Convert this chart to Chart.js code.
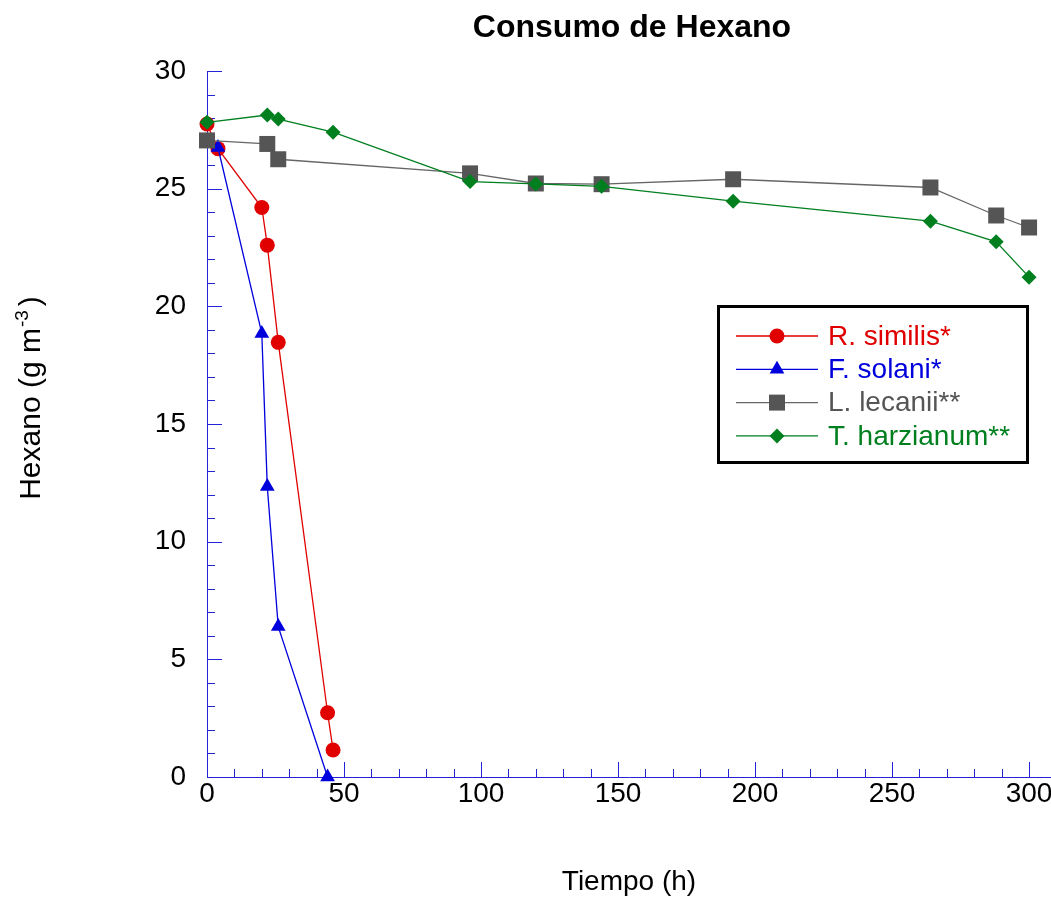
<!DOCTYPE html>
<html>
<head>
<meta charset="utf-8">
<title>Consumo de Hexano</title>
<script src="https://cdn.jsdelivr.net/npm/chart.js@4/dist/chart.umd.min.js"></script>
<style>
  html, body { margin: 0; padding: 0; background: #fff; }
  #wrap { width: 1051px; height: 899px; }
</style>
</head>
<body>
<div id="wrap"><canvas id="chart" width="1051" height="899"></canvas></div>
<script>
// tiempos (h) y hexano (g m-3) de cada cepa
const tiempoSimilis = [0, 4, 20, 22, 26, 44, 46];
const similis = [27.75, 26.7, 24.2, 22.6, 18.47, 2.73, 1.15];

const tiempoSolani = [0, 4, 20, 22, 26, 44];
const solani = [27.0, 26.75, 18.85, 12.34, 6.39, 0];

const tiempoLecanii = [0, 22, 26, 96, 120, 144, 192, 264, 288, 300];
const lecanii = [27.05, 26.9, 26.25, 25.65, 25.22, 25.19, 25.4, 25.05, 23.86, 23.35];

const tiempoHarzianum = [0, 22, 26, 46, 96, 120, 144, 192, 264, 288, 300];
const harzianum = [27.82, 28.13, 27.96, 27.4, 25.3, 25.2, 25.1, 24.47, 23.62, 22.74, 21.24];

const nombres = ["R. similis*", "F. solani*", "L. lecanii**", "T. harzianum**"];
const ticksX = [0, 50, 100, 150, 200, 250, 300];
const ticksY = [0, 5, 10, 15, 20, 25, 30];

const azul = "#2424d6";
const fuente = "'Liberation Sans', Arial, sans-serif";

function puntos(xs, ys) {
  return xs.map((x, i) => ({ x: x, y: ys[i] }));
}

function serie(label, xs, ys, color, linea, estilo, radio, orden) {
  return {
    label: label,
    data: puntos(xs, ys),
    borderColor: linea,
    backgroundColor: color,
    pointBackgroundColor: color,
    pointBorderColor: color,
    pointBorderWidth: 0,
    borderWidth: 1.3,
    pointStyle: estilo,
    pointRadius: radio,
    pointHoverRadius: radio,
    tension: 0,
    clip: false,
    order: orden
  };
}

const datasets = [
  serie(nombres[0], tiempoSimilis, similis, "#e00000", "#e00000", "circle", 7.5, 4),
  serie(nombres[1], tiempoSolani, solani, "#0000dd", "#0000dd", "triangle", 8.5, 3),
  serie(nombres[2], tiempoLecanii, lecanii, "#555555", "#666666", "rect", 11.3, 2),
  serie(nombres[3], tiempoHarzianum, harzianum, "#007f1f", "#007f1f", "rectRot", 7.5, 1)
];
const colorTexto = ["#e00000", "#0000dd", "#555555", "#007f1f"];

// ejes azules con marcas hacia dentro, titulo, eje y y leyenda
const decoracion = {
  id: "decoracion",
  beforeDatasetsDraw(chart) {
    const ctx = chart.ctx;
    const a = chart.chartArea;
    const sx = chart.scales.x, sy = chart.scales.y;
    ctx.save();
    ctx.strokeStyle = azul;
    ctx.lineWidth = 1;
    ctx.beginPath();
    ctx.moveTo(a.left + 0.5, a.top);
    ctx.lineTo(a.left + 0.5, a.bottom + 0.5);
    ctx.lineTo(a.right, a.bottom + 0.5);
    for (let v = 0; v <= 30; v++) {
      const y = Math.round(sy.getPixelForValue(v)) + 0.5;
      ctx.moveTo(a.left, y);
      ctx.lineTo(a.left + (v % 5 === 0 ? 15 : 8), y);
    }
    for (let v = 0; v <= 300; v += 10) {
      const x = Math.round(sx.getPixelForValue(v)) + 0.5;
      ctx.moveTo(x, a.bottom);
      ctx.lineTo(x, a.bottom - (v % 50 === 0 ? 15 : 8));
    }
    ctx.stroke();
    ctx.restore();
  },
  afterDraw(chart) {
    const ctx = chart.ctx;
    ctx.save();
    // titulo
    ctx.fillStyle = "#000";
    ctx.font = "bold 32px " + fuente;
    ctx.textAlign = "center";
    ctx.textBaseline = "alphabetic";
    ctx.fillText("Consumo de Hexano", 632, 37);

    // titulo del eje y con superindice
    const f1 = "30px " + fuente, f2 = "19px " + fuente;
    ctx.font = f1;
    const p1 = "Hexano (g m", p3 = ")";
    const w1 = ctx.measureText(p1).width, w3 = ctx.measureText(p3).width;
    ctx.font = f2;
    const w2 = ctx.measureText("-3").width;
    const total = w1 + w2 + 5 + w3;
    ctx.translate(40, 398);
    ctx.rotate(-Math.PI / 2);
    ctx.textAlign = "left";
    let x = -total / 2;
    ctx.font = f1;
    ctx.fillText(p1, x, 0);
    x += w1 + 1;
    ctx.font = f2;
    ctx.fillText("-3", x, -12);
    x += w2 + 4;
    ctx.font = f1;
    ctx.fillText(p3, x, 0);
    ctx.restore();

    // leyenda
    ctx.save();
    ctx.fillStyle = "#fff";
    ctx.fillRect(718, 306, 310, 157);
    ctx.strokeStyle = "#000";
    ctx.lineWidth = 3;
    ctx.strokeRect(718.5, 306.5, 309, 156);
    ctx.font = "28px " + fuente;
    ctx.textBaseline = "middle";
    ctx.textAlign = "left";
    chart.data.datasets.forEach((ds, i) => {
      const y = 336 + i * 33.3;
      ctx.strokeStyle = ds.borderColor;
      ctx.lineWidth = 1.3;
      ctx.beginPath();
      ctx.moveTo(736, y);
      ctx.lineTo(818, y);
      ctx.stroke();
      ctx.fillStyle = ds.pointBackgroundColor;
      Chart.helpers.drawPoint(ctx, {
        pointStyle: ds.pointStyle,
        radius: ds.pointRadius,
        rotation: 0,
        borderWidth: 0
      }, 777, y);
      ctx.fillStyle = colorTexto[i];
      ctx.fillText(ds.label, 828, y + 1);
    });
    ctx.restore();
  }
};

new Chart(document.getElementById("chart"), {
  type: "line",
  data: { datasets: datasets },
  plugins: [decoracion],
  options: {
    responsive: false,
    animation: false,
    layout: { autoPadding: false, padding: { top: 71, right: 0, left: 0, bottom: 0 } },
    plugins: {
      legend: { display: false },
      title: { display: false },
      tooltip: { enabled: false }
    },
    scales: {
      x: {
        type: "linear",
        min: 0,
        max: 308,
        grid: { display: false, drawTicks: false },
        border: { display: false },
        afterFit(s) { s.height = 122; s.paddingRight = 0; s.paddingLeft = 0; },
        afterBuildTicks(s) { s.ticks = ticksX.map(v => ({ value: v })); },
        ticks: {
          padding: 0,
          maxRotation: 0,
          autoSkip: false,
          color: "#000",
          font: { family: fuente, size: 28 }
        },
        title: {
          display: true,
          text: "Tiempo (h)",
          color: "#000",
          padding: { top: 0, bottom: 0 },
          font: { family: fuente, size: 28 }
        }
      },
      y: {
        min: 0,
        max: 30,
        grid: { display: false, drawTicks: false },
        border: { display: false },
        afterFit(s) { s.width = 207; s.paddingTop = 0; s.paddingBottom = 0; },
        afterBuildTicks(s) { s.ticks = ticksY.map(v => ({ value: v })); },
        ticks: {
          padding: 21,
          color: "#000",
          font: { family: fuente, size: 28 }
        }
      }
    }
  }
});
</script>
</body>
</html>
